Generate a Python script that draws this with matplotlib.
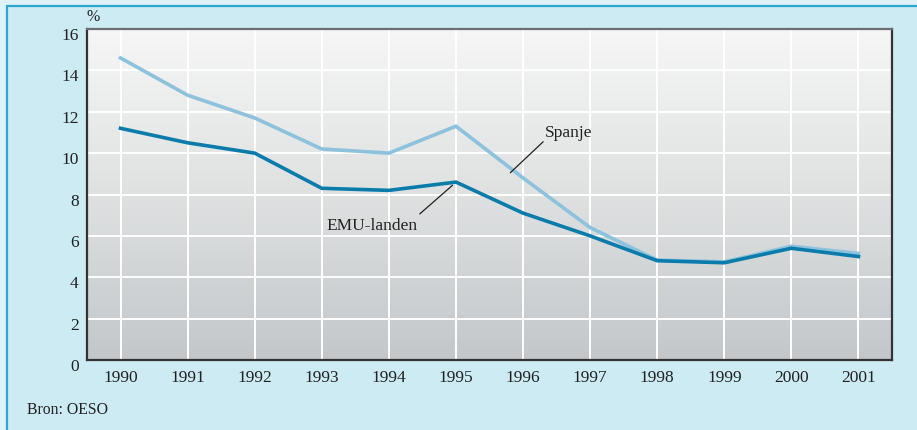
import matplotlib
matplotlib.use("Agg")
import matplotlib.pyplot as plt
import matplotlib.transforms as mtransforms
from matplotlib.patches import Rectangle
from matplotlib.colors import LinearSegmentedColormap
import numpy as np

years = ["1990", "1991", "1992", "1993", "1994", "1995", "1996", "1997", "1998", "1999", "2000", "2001"]
spanje = [14.6, 12.8, 11.7, 10.2, 10.0, 11.3, 8.8, 6.4, 4.83, 4.74, 5.5, 5.15]
emu = [11.2, 10.5, 10.0, 8.3, 8.2, 8.6, 7.1, 6.0, 4.8, 4.7, 5.4, 5.0]
yticks = [0, 2, 4, 6, 8, 10, 12, 14, 16]

plt.rcParams['font.family'] = ['Liberation Serif', 'DejaVu Serif']

W, H = 917, 430
fig = plt.figure(figsize=(W / 100, H / 100), dpi=100)
fig.patch.set_facecolor('#dff2f8')

# inner panel with border
fig.patches.append(Rectangle((6.5 / W, -0.1), 1.2, (H - 5.5) / H + 0.1, transform=fig.transFigure,
                             facecolor='#cdebf3', edgecolor='#2aa8d0', linewidth=1.6, zorder=-1))

ax = fig.add_axes([87 / W, (H - 360) / H, (892 - 87) / W, (360 - 29) / H])
ax.set_zorder(2)
x = np.arange(len(years))
ax.set_xlim(-0.5, len(years) - 0.5)
ax.set_ylim(0, 16)

# gradient background (light at top, grey at bottom)
grad = np.linspace(0, 1, 256).reshape(-1, 1)
cmap = LinearSegmentedColormap.from_list('g', ['#f6f6f6', '#dfe1e1', '#c3c7ca'])
ax.imshow(grad, cmap=cmap, aspect='auto', extent=(-0.5, len(years) - 0.5, 0, 16), origin='upper',
          zorder=0, interpolation='bilinear')

for v in yticks[1:-1]:
    ax.axhline(v, color='white', linewidth=1.4, zorder=1)
for xi in x:
    ax.axvline(xi, color='white', linewidth=1.4, zorder=1)

ax.plot(x, spanje, color='#8cc2dd', linewidth=2.6, zorder=3, solid_joinstyle='miter')
ax.plot(x, emu, color='#0a7cab', linewidth=2.6, zorder=4, solid_joinstyle='miter')

ax.set_xticks(x)
ax.set_xticklabels(years, fontsize=12.5, color='#222222')
ax.set_yticks(yticks)
ax.set_yticklabels([str(v) for v in yticks], fontsize=12.5, color='#222222')
ax.tick_params(length=0, axis='x', pad=7)
ax.tick_params(length=0, axis='y', pad=6)
offset = mtransforms.ScaledTranslation(0, -5 / 100, fig.dpi_scale_trans)
for lab in ax.get_yticklabels():
    lab.set_transform(lab.get_transform() + offset)

for side in ['left', 'bottom', 'right']:
    ax.spines[side].set_color('#333333')
    ax.spines[side].set_linewidth(1.6)
ax.spines['top'].set_color('#6a6e72')
ax.spines['top'].set_linewidth(1.6)

# annotations: leader lines and labels
lp = dict(arrowstyle='-', color='#222222', linewidth=0.9, shrinkA=0, shrinkB=0)
ax.annotate('', xy=(5.81, 9.05), xytext=(6.30, 10.55), arrowprops=lp, zorder=5)
ax.text(6.33, 10.97, 'Spanje', fontsize=12.5, color='#222222', ha='left', va='center', zorder=5)
ax.annotate('', xy=(4.95, 8.45), xytext=(4.46, 7.06), arrowprops=lp, zorder=5)
ax.text(3.755, 6.5, 'EMU-landen', fontsize=12.5, color='#222222', ha='center', va='center', zorder=5)

fig.text(93 / W, 1 - 17 / H, '%', fontsize=11.5, color='#222222', ha='center', va='center')
fig.text(27 / W, 1 - 410 / H, 'Bron: OESO', fontsize=11.3, color='#222222', ha='left', va='center')

fig.savefig('out.png', dpi=100, facecolor=fig.get_facecolor())
